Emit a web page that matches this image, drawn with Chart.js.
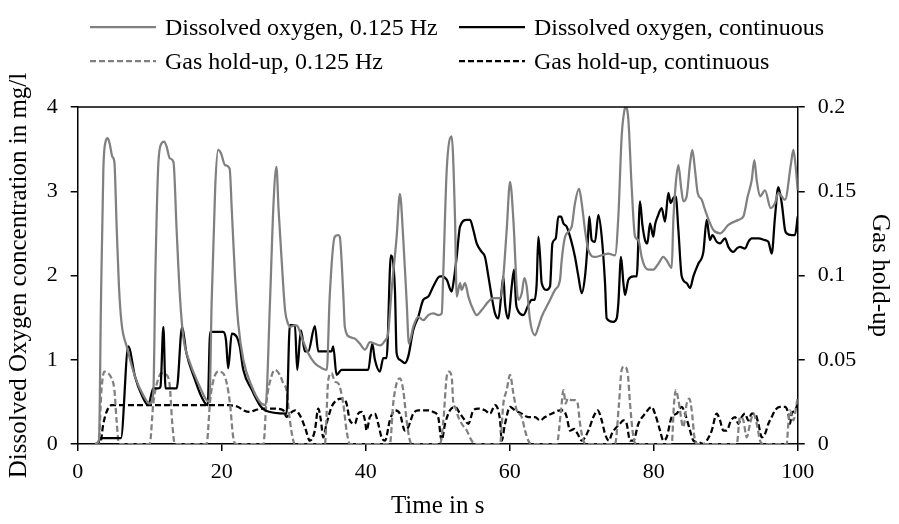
<!DOCTYPE html>
<html>
<head>
<meta charset="utf-8">
<script src="https://cdn.jsdelivr.net/npm/chart.js@4.4.1/dist/chart.umd.min.js"></script>
<style>
  html, body { margin: 0; padding: 0; background: #fff; }
  #wrap { position: relative; width: 899px; height: 524px; }
  #legend { position: absolute; left: 0; top: 0; font-family: "Liberation Serif", "Times New Roman", serif; font-size: 24px; color: #000; }
  .item { position: absolute; display: flex; align-items: center; white-space: nowrap; height: 30px; }
  .item svg { margin-right: 9px; }
</style>
</head>
<body>
<div id="wrap">
  <canvas id="chart" width="899" height="524"></canvas>
  <div id="legend"></div>
</div>
<script>
// time in s
const timeDoPulsed = [2.4, 2.96, 3.23, 3.56, 3.88, 4.16, 4.48, 4.81, 5.09, 5.41, 5.73, 6.1, 6.8, 7.96, 9.1, 10.0, 10.5, 10.8, 11.2, 11.66, 12.0, 12.35, 12.8, 13.3, 13.74, 14.2, 14.67, 15.6, 16.75, 17.9, 18.3, 18.6, 19.1, 19.5, 19.9, 20.46, 21.1, 21.4, 21.85, 22.3, 23.0, 24.2, 25.3, 26.1, 26.7, 27.2, 27.6, 27.9, 28.3, 28.8, 29.2, 29.5, 30.2, 30.6, 31.1, 32.0, 32.9, 33.9, 34.6, 35.0, 35.7, 36.2, 36.4, 36.9, 37.1, 37.8, 38.5, 39.2, 39.9, 40.6, 41.3, 42.0, 42.7, 43.1, 43.6, 44.3, 44.75, 45.2, 45.7, 46.0, 46.6, 47.3, 48.0, 48.7, 49.4, 50.1, 50.56, 50.79, 51.25, 51.94, 52.41, 52.64, 53.1, 53.33, 53.8, 54.26, 54.95, 55.42, 56.11, 57.04, 57.73, 58.66, 59.12, 59.58, 60.05, 60.51, 60.97, 61.2, 61.67, 62.04, 62.36, 62.82, 63.52, 63.98, 64.44, 65.37, 66.3, 66.99, 67.22, 67.69, 68.61, 69.07, 69.63, 70.0, 70.46, 70.93, 71.85, 72.78, 73.7, 74.63, 75.09, 75.55, 75.93, 76.11, 76.48, 76.94, 77.41, 77.87, 78.33, 78.8, 79.26, 79.95, 80.65, 81.34, 81.8, 82.5, 82.73, 83.06, 83.43, 83.8, 84.12, 84.58, 85.05, 85.37, 85.74, 86.11, 86.67, 87.13, 87.82, 88.29, 89.21, 90.37, 91.76, 92.45, 93.06, 93.61, 93.98, 94.31, 94.77, 95.46, 96.25, 96.85, 97.31, 98.24, 99.07, 99.4, 99.72, 100];
const doPulsed = [0, 0.05, 1.67, 3.25, 3.59, 3.63, 3.55, 3.41, 3.35, 2.58, 1.87, 1.43, 1.16, 0.80, 0.58, 0.48, 0.6, 2.07, 3.33, 3.57, 3.59, 3.53, 3.39, 3.35, 2.54, 1.75, 1.27, 0.96, 0.72, 0.52, 0.5, 1.67, 3.05, 3.49, 3.45, 3.31, 3.27, 2.78, 1.99, 1.43, 1.0, 0.68, 0.50, 0.46, 1.67, 2.86, 3.29, 2.78, 2.22, 1.59, 1.43, 1.39, 1.41, 1.39, 1.27, 1.08, 0.96, 0.90, 0.88, 1.75, 2.46, 2.48, 2.46, 1.75, 1.39, 1.27, 1.25, 1.19, 1.12, 1.21, 1.19, 1.17, 1.23, 1.31, 1.83, 2.46, 2.97, 2.46, 1.67, 1.19, 1.39, 1.51, 1.47, 1.53, 1.55, 1.53, 1.55, 2.07, 3.25, 3.65, 2.66, 1.75, 1.91, 1.83, 1.91, 1.75, 1.59, 1.53, 1.59, 1.69, 1.73, 1.73, 1.99, 2.54, 3.11, 2.66, 1.87, 1.71, 1.79, 1.97, 1.87, 1.47, 1.29, 1.39, 1.51, 1.67, 1.83, 1.95, 2.18, 2.46, 2.58, 2.86, 3.03, 2.86, 2.54, 2.30, 2.22, 2.24, 2.26, 2.24, 2.70, 3.65, 3.96, 4.0, 3.85, 3.05, 2.46, 2.42, 2.22, 2.10, 2.07, 2.07, 2.14, 2.22, 2.18, 2.09, 2.66, 3.09, 3.31, 3.05, 2.88, 2.94, 3.33, 3.49, 3.25, 2.98, 2.90, 2.78, 2.62, 2.54, 2.50, 2.60, 2.66, 2.70, 2.94, 3.13, 3.37, 3.13, 2.94, 3.01, 2.80, 2.86, 2.98, 2.90, 3.33, 3.49, 3.29, 3.01];

const timeDoCont = [2.4, 2.9, 3.1, 5.9, 6.0, 7.03, 7.96, 8.9, 9.8, 10.5, 11.2, 11.5, 11.9, 12.2, 12.8, 13.75, 14.5, 15.1, 16.3, 17.2, 18.05, 18.4, 20.2, 20.6, 20.9, 21.4, 22.1, 22.5, 23.0, 24.2, 25.3, 26.0, 29.0, 29.47, 30.17, 30.49, 31.0, 31.56, 32.02, 32.94, 33.41, 35.26, 35.49, 35.95, 36.65, 40.35, 40.91, 41.28, 41.97, 42.44, 42.9, 43.5, 44.06, 44.29, 44.75, 45.44, 45.91, 46.6, 47.3, 47.99, 48.69, 49.38, 50.3, 50.56, 51.25, 51.94, 52.18, 52.64, 53.1, 54.03, 54.49, 54.95, 55.42, 56.11, 56.57, 57.04, 57.5, 57.96, 58.43, 58.89, 59.12, 59.35, 59.81, 60.28, 60.6, 60.88, 61.11, 61.9, 62.59, 63.06, 63.43, 63.75, 63.98, 64.21, 64.44, 65.14, 65.6, 65.93, 66.39, 66.76, 67.13, 67.45, 67.92, 68.52, 69.07, 69.54, 70.0, 70.46, 70.83, 71.06, 71.39, 71.85, 72.31, 72.78, 73.24, 73.47, 74.4, 74.86, 75.09, 75.46, 75.79, 76.02, 76.48, 77.18, 77.64, 78.1, 78.43, 78.8, 79.12, 79.49, 79.95, 80.18, 80.55, 81.11, 81.57, 82.04, 82.36, 82.73, 83.06, 83.43, 83.89, 84.58, 85.05, 85.51, 86.2, 86.9, 87.36, 87.82, 88.15, 88.75, 89.21, 89.91, 90.37, 91.06, 91.53, 91.99, 92.68, 93.15, 93.61, 94.54, 95.46, 95.93, 96.39, 96.85, 97.31, 97.78, 98.24, 98.47, 99.17, 99.63, 100];
const doCont = [0, 0.02, 0.07, 0.07, 0.07, 1.16, 0.80, 0.58, 0.46, 0.66, 0.66, 0.68, 1.39, 0.66, 0.66, 0.66, 1.39, 1.08, 0.76, 0.56, 0.46, 1.33, 1.33, 1.23, 0.90, 1.31, 1.27, 1.16, 0.88, 0.64, 0.46, 0.40, 0.36, 1.41, 1.41, 0.88, 1.35, 1.10, 1.10, 1.40, 1.10, 1.10, 1.16, 0.82, 0.88, 0.88, 1.19, 1.00, 0.86, 1.02, 1.02, 2.24, 1.83, 1.08, 1.00, 0.96, 1.04, 1.35, 1.51, 1.71, 1.75, 1.87, 1.99, 1.99, 1.95, 1.81, 1.91, 2.22, 2.58, 2.66, 2.66, 2.54, 2.38, 2.28, 2.22, 1.99, 1.75, 1.55, 1.49, 1.83, 1.99, 1.67, 1.49, 1.87, 2.07, 1.67, 1.59, 1.53, 1.65, 1.71, 1.71, 1.91, 2.46, 2.24, 1.91, 1.83, 1.87, 2.38, 2.44, 2.70, 2.70, 2.62, 2.58, 2.42, 2.22, 1.99, 1.79, 1.99, 2.38, 2.70, 2.42, 2.40, 2.72, 2.46, 1.91, 1.49, 1.45, 1.49, 1.67, 2.22, 1.91, 1.77, 1.95, 1.99, 1.99, 2.88, 2.60, 2.42, 2.38, 2.62, 2.46, 2.60, 2.70, 2.80, 2.64, 2.98, 2.86, 2.92, 2.94, 2.54, 1.99, 1.91, 1.85, 1.99, 2.14, 2.28, 2.66, 2.42, 2.48, 2.40, 2.38, 2.44, 2.34, 2.28, 2.32, 2.34, 2.32, 2.40, 2.44, 2.44, 2.42, 2.40, 2.26, 2.70, 3.05, 2.86, 2.54, 2.50, 2.48, 2.48, 2.70];

const timeGasPulsed = [2.4, 2.9, 3.3, 3.7, 4.25, 4.7, 5.1, 5.4, 5.73, 10.0, 10.5, 11.0, 11.66, 12.35, 12.8, 13.1, 13.5, 17.9, 18.4, 18.8, 19.5, 20.2, 20.7, 21.15, 21.6, 22.0, 25.8, 26.2, 26.9, 27.39, 28.08, 28.55, 29.0, 29.47, 29.94, 30.2, 34.33, 34.8, 35.26, 35.72, 36.19, 36.88, 37.34, 37.8, 43.36, 43.82, 44.29, 44.75, 45.21, 45.68, 46.14, 46.4, 50.32, 50.79, 51.25, 51.57, 51.94, 52.18, 52.41, 52.87, 53.33, 54.03, 54.72, 55.19, 58.66, 59.12, 59.58, 60.05, 60.51, 60.97, 61.67, 62.13, 62.59, 63.06, 66.53, 67.13, 67.45, 67.78, 68.06, 68.61, 69.07, 69.44, 69.77, 70.23, 70.7, 74.63, 75.18, 75.55, 75.93, 76.39, 76.71, 77.18, 77.64, 82.5, 82.82, 83.1, 83.43, 84.12, 84.58, 84.95, 85.28, 85.74, 86.2, 91.53, 91.99, 92.45, 92.92, 93.38, 93.84, 94.31, 94.77, 95.2, 98.47, 98.7, 98.93, 99.4, 99.86, 100];
const gasPulsed = [0, 0, 0.032, 0.043, 0.042, 0.039, 0.032, 0.014, 0, 0, 0.024, 0.036, 0.042, 0.041, 0.034, 0.014, 0, 0, 0.026, 0.037, 0.043, 0.042, 0.036, 0.024, 0.004, 0, 0, 0.024, 0.040, 0.044, 0.041, 0.036, 0.032, 0.014, 0.002, 0, 0, 0.038, 0.042, 0.037, 0.036, 0.024, 0.008, 0, 0, 0.024, 0.036, 0.039, 0.032, 0.014, 0.002, 0, 0, 0.014, 0.040, 0.043, 0.040, 0.024, 0.022, 0.016, 0.012, 0.008, 0.002, 0, 0, 0.024, 0.032, 0.041, 0.030, 0.020, 0.016, 0.008, 0.002, 0, 0, 0.020, 0.032, 0.024, 0.027, 0.026, 0.026, 0.024, 0.012, 0.002, 0, 0, 0.024, 0.044, 0.046, 0.042, 0.024, 0.004, 0, 0, 0.024, 0.032, 0.026, 0.010, 0.024, 0.027, 0.020, 0.002, 0, 0, 0.016, 0.014, 0.004, 0.012, 0.018, 0.012, 0.002, 0, 0, 0.012, 0.020, 0.014, 0.024, 0.027];

const timeGasCont = [2.4, 3.1, 3.56, 4.0, 4.7, 20.9, 22.3, 23.0, 23.9, 24.6, 25.5, 27.4, 28.55, 29.0, 29.47, 30.17, 30.86, 31.56, 32.25, 32.94, 33.41, 33.78, 34.1, 34.56, 35.26, 35.95, 36.65, 37.34, 37.8, 38.5, 38.96, 39.43, 39.9, 40.12, 40.58, 41.28, 41.74, 42.2, 42.67, 43.36, 44.06, 44.75, 45.44, 45.91, 46.6, 47.3, 48.69, 49.38, 50.07, 50.54, 51.02, 51.71, 52.41, 53.1, 53.8, 54.26, 54.95, 55.65, 56.57, 57.27, 57.96, 58.66, 58.89, 59.35, 60.05, 60.74, 61.67, 62.59, 63.52, 64.21, 64.91, 65.83, 66.99, 67.45, 67.92, 68.38, 68.98, 69.44, 70.0, 70.93, 71.62, 72.22, 72.78, 73.24, 73.8, 74.17, 74.63, 75.32, 75.79, 76.25, 76.71, 77.18, 77.87, 78.8, 79.72, 80.18, 80.88, 81.34, 81.8, 82.5, 83.19, 83.89, 84.35, 85.05, 85.51, 86.2, 86.9, 87.36, 88.06, 88.75, 89.21, 89.68, 90.14, 90.74, 91.3, 91.76, 92.22, 92.68, 93.15, 93.61, 94.07, 94.54, 95.0, 95.46, 95.93, 96.39, 96.85, 97.55, 98.24, 98.7, 98.93, 99.17, 99.63, 100];
const gasCont = [0, 0, 0.012, 0.019, 0.023, 0.023, 0.022, 0.020, 0.019, 0.020, 0.021, 0.021, 0.020, 0.016, 0.018, 0.020, 0.017, 0.010, 0.002, 0.008, 0.021, 0.014, 0.004, 0.012, 0.022, 0.026, 0.027, 0.024, 0.014, 0.012, 0.018, 0.019, 0.014, 0.008, 0.016, 0.018, 0.012, 0.004, 0.002, 0.014, 0.020, 0.018, 0.008, 0.010, 0.018, 0.020, 0.020, 0.019, 0.016, 0.002, 0.012, 0.020, 0.022, 0.018, 0.014, 0.012, 0.020, 0.021, 0.020, 0.018, 0.023, 0.014, 0.002, 0.012, 0.022, 0.020, 0.018, 0.016, 0.016, 0.014, 0.016, 0.018, 0.020, 0.020, 0.016, 0.008, 0.009, 0.006, 0.002, 0.008, 0.016, 0.020, 0.014, 0.006, 0.002, 0.006, 0.009, 0.012, 0.014, 0.012, 0.002, 0.002, 0.012, 0.018, 0.022, 0.018, 0.008, 0.002, 0.004, 0.016, 0.018, 0.022, 0.018, 0.008, 0.002, 0.001, 0, 0.002, 0.008, 0.018, 0.014, 0.008, 0.008, 0.014, 0.016, 0.012, 0.016, 0.018, 0.014, 0.018, 0.018, 0.012, 0.004, 0.006, 0.012, 0.016, 0.020, 0.022, 0.022, 0.018, 0.012, 0.018, 0.020, 0.024];

const seriesLabels = ['Dissolved oxygen, 0.125 Hz', 'Dissolved oxygen, continuous', 'Gas hold-up, 0.125 Hz', 'Gas hold-up, continuous'];
const xTickStep = 20;
const yTickStep = 1;
const y2TickStep = 0.05;

const FONT = "'Liberation Serif', 'Times New Roman', serif";
const GRAY = '#808080';
const DASH = [6, 3];

const toPoints = (xs, ys) => xs.map((x, i) => ({ x: x, y: ys[i] }));

// Excel-like frame line on top of the plot area
const topBorder = {
    id: 'topBorder',
    afterDraw(chart) {
        const { ctx, chartArea: a } = chart;
        ctx.save();
        ctx.strokeStyle = '#000';
        ctx.lineWidth = 1.5;
        ctx.beginPath();
        ctx.moveTo(a.left, a.top);
        ctx.lineTo(a.right, a.top);
        ctx.stroke();
        ctx.restore();
    }
};

const axisStyle = {
    grid: { drawOnChartArea: false, drawTicks: true, tickLength: 7, color: '#000', lineWidth: 1.5 },
    border: { color: '#000', width: 1.5 }
};
const tickFont = { family: FONT, size: 22 };
const titleFont = { family: FONT, size: 25 };

const ctx = document.getElementById('chart').getContext('2d');
const chart = new Chart(ctx, {
    type: 'line',
    data: {
        datasets: [
            { label: seriesLabels[0], data: toPoints(timeDoPulsed, doPulsed), borderColor: GRAY, borderWidth: 2.25, yAxisID: 'y' },
            { label: seriesLabels[1], data: toPoints(timeDoCont, doCont), borderColor: '#000', borderWidth: 2.25, yAxisID: 'y' },
            { label: seriesLabels[2], data: toPoints(timeGasPulsed, gasPulsed), borderColor: GRAY, borderWidth: 2.25, borderDash: DASH, yAxisID: 'y2' },
            { label: seriesLabels[3], data: toPoints(timeGasCont, gasCont), borderColor: '#000', borderWidth: 2.25, borderDash: DASH, yAxisID: 'y2' }
        ]
    },
    options: {
        responsive: false,
        animation: false,
        layout: { padding: { top: 107, left: 0, right: 0, bottom: 0 } },
        elements: {
            point: { radius: 0 },
            line: { cubicInterpolationMode: 'monotone', fill: false }
        },
        plugins: { legend: { display: false }, tooltip: { enabled: false } },
        scales: {
            x: {
                type: 'linear', min: 0, max: 100,
                ticks: { stepSize: xTickStep, font: tickFont, color: '#000', padding: 8, maxRotation: 0 },
                ...axisStyle,
                title: { display: true, text: 'Time in s', font: titleFont, color: '#000', padding: { top: 0, bottom: 3 } },
                afterFit: s => { s.height = 80; }
            },
            y: {
                position: 'left', min: 0, max: 4,
                ticks: { stepSize: yTickStep, font: tickFont, color: '#000', padding: 13 },
                ...axisStyle,
                title: { display: true, text: 'Dissolved Oxygen concentration in mg/l', font: titleFont, color: '#000', padding: { top: 4, bottom: 0 } },
                afterFit: s => { s.width = 77.7; }
            },
            y2: {
                position: 'right', min: 0, max: 0.2,
                ticks: { stepSize: y2TickStep, font: tickFont, color: '#000', padding: 13,
                    callback: v => String(Number(v.toFixed(2))) },
                ...axisStyle,
                title: { display: true, text: 'Gas hold-up', font: titleFont, color: '#000', padding: { top: 4, bottom: 0 } },
                afterFit: s => { s.width = 101.3; }
            }
        }
    },
    plugins: [topBorder]
});

// legend laid out like the Excel original (two columns, two rows)
const legendItems = [
    { left: 90, top: 12, color: GRAY, dash: false, text: seriesLabels[0] },
    { left: 459, top: 12, color: '#000', dash: false, text: seriesLabels[1] },
    { left: 90, top: 46, color: GRAY, dash: true, text: seriesLabels[2] },
    { left: 459, top: 46, color: '#000', dash: true, text: seriesLabels[3] }
];
const legend = document.getElementById('legend');
legendItems.forEach(it => {
    const div = document.createElement('div');
    div.className = 'item';
    div.style.left = it.left + 'px';
    div.style.top = it.top + 'px';
    const dash = it.dash ? ' stroke-dasharray="6 3"' : '';
    div.innerHTML = '<svg width="66" height="6"><line x1="0" y1="3" x2="66" y2="3" stroke="' + it.color +
        '" stroke-width="2.25"' + dash + '/></svg><span>' + it.text + '</span>';
    legend.appendChild(div);
});
</script>
</body>
</html>
